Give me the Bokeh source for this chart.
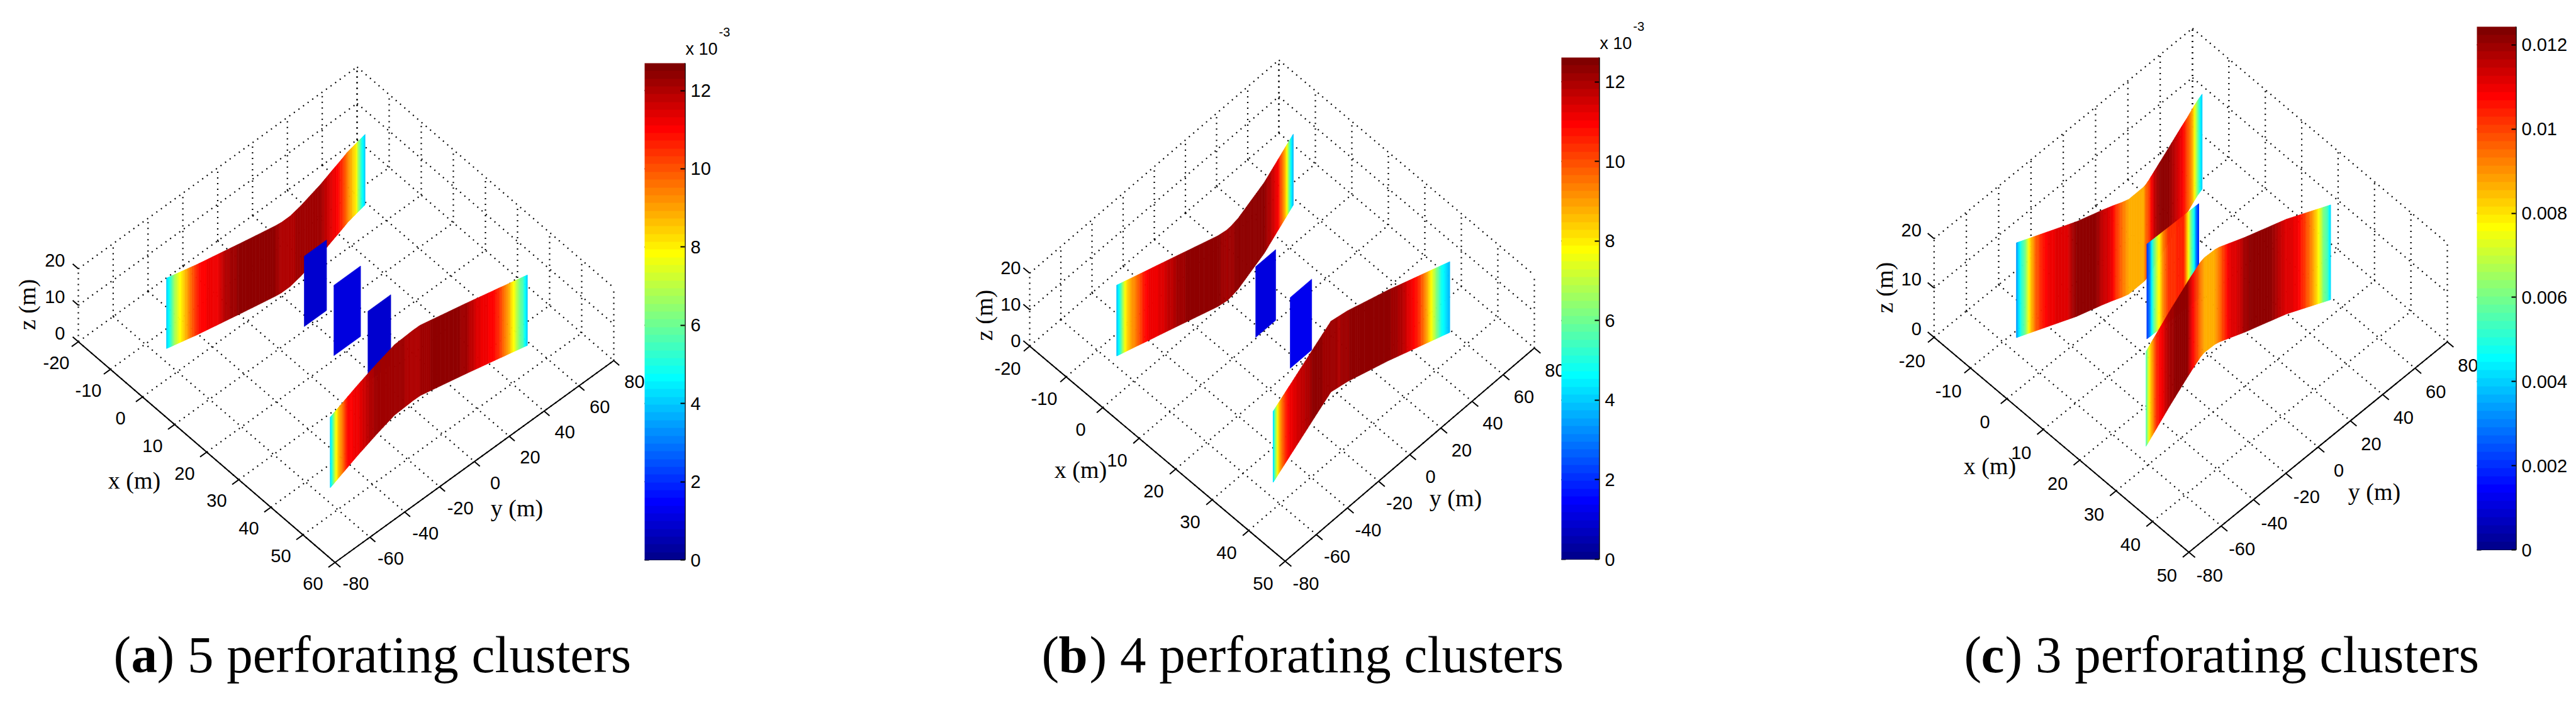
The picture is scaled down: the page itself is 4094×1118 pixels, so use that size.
from bokeh.plotting import figure
from bokeh.models import ColumnDataSource, ColorBar, LinearColorMapper, FixedTicker
from bokeh.embed import file_html
from bokeh.resources import INLINE
from bokeh.core.properties import value
import numpy as np

# ---- data (x, y, z in metres; v = value x 1e-3) ----
x_ticks_a = [-20, -10, 0, 10, 20, 30, 40, 50, 60]
x_ticks_b = [-20, -10, 0, 10, 20, 30, 40, 50]
x_ticks_c = [-20, -10, 0, 10, 20, 30, 40, 50]
y_ticks = [-80, -60, -40, -20, 0, 20, 40, 60, 80]
z_ticks = [0, 10, 20]

a_up_y = [-55,-53,-52,-50.5,-48,-46,-43.5,-41,-38.5,-33,-30,-27,-23,-20,-10,-2,1,6,13,20,27,33,36,40,44,47,50,53,55,57,59]
a_up_x = [-6.1,-5.87,-5.76,-5.59,-5.3,-5.08,-4.8,-4.5,-4.26,-3.74,-3.45,-3.17,-2.79,-2.5,-1.59,-.88,-.7,-.7,-1.2,-1.9,-2.6,-3.35,-3.73,-4.2,-4.7,-5.1,-5.35,-5.6,-5.77,-5.93,-6.1]
a_up_v = [4,5.2,6,7,8,8.7,9.6,10.4,11,11.2,11.3,11.9,12.2,12.35,12.35,12.3,12,12,12.2,12.3,12.2,11.6,11.3,11,10.3,9.5,8.7,8,6.3,5,4]

a_low_y = [-54.4,-53,-52,-51,-49.5,-47.7,-45,-43,-41,-34,-27,-20,-8,-2,3,7,13,25,29,35,42.5,45,47.5,50,51.8,53.6,55,56.6,58.6]
a_low_x = [44.6,44.43,44.31,44.19,44.01,43.79,43.47,43.23,42.98,42.15,41.39,40.64,39.48,39.37,39.27,39.3,39.9,41.1,41.5,42.14,42.95,43.2,43.5,43.75,43.95,44.15,44.3,44.47,44.7]
a_low_v = [4,5.2,6,7,8,8.8,9.6,10.4,11,11.2,11.8,12.3,12.3,12.1,12,12.1,12.35,12.35,12.2,11.4,11,10.5,9.6,8.8,8,7,6.2,5.5,4]

a_mid_x = [9.2, 19.15, 29.1]
a_mid_y0 = [-4.1, -5.4, -4.2]
a_mid_y1 = [8.7, 9.9, 8.9]
a_mid_v = [0.8, 1.1, 0.8]

b_up_y = [-56,-55,-53.8,-52.5,-51.3,-49.4,-45.6,-43,-40.8,-35,-25.9,-19,-5,0,2.8,8,15,22,29.8,36.4,43,47,49.5,51.3,53,55,57.4]
b_up_x = [-6.4,-6.28,-6.14,-5.99,-5.85,-5.63,-5.18,-4.87,-4.61,-3.94,-2.87,-2.05,-.4,-.1,-.15,-.43,-1.13,-1.83,-2.6,-3.51,-4.42,-4.97,-5.31,-5.56,-5.79,-6.07,-6.4]
b_up_v = [3.8,4.5,5.5,7,8,8.7,9.6,10.4,11,11.2,12,12.35,12.35,12,12.1,12.35,12.35,12.35,12.3,11.8,11,9.6,8.8,8,6.5,5,3.8]

b_low_y = [-54,-52.8,-51.7,-50.6,-49.5,-47.7,-45.4,-42.6,-39.2,-29,-16.4,-1.4,3.2,7.8,13.9,28.9,35.8,40.1,43.6,46,48,49.6,51.4,53,54.8,59]
b_low_x = [35.6,35.45,35.31,35.17,35.03,34.8,34.51,34.16,33.73,32.45,30.86,29,29.3,29.6,30.27,31.9,32.8,33.36,33.81,34.12,34.38,34.59,34.82,35.03,35.26,35.8]
b_low_v = [3.8,5.2,6.2,7,8,8.8,9.6,10.4,11,11.6,12.3,12.1,12,12.2,12.35,12.35,11.8,11.1,10.5,9.6,8.8,8,7,6,5,3.8]

b_mid_x = [9.8, 19.55]
b_mid_y0 = [-4.7, -5.4]
b_mid_y1 = [8.1, 8.4]
b_mid_v = [1.1, 1.2]

c_up_y = [-54.7,-53.8,-52.4,-50.7,-48.7,-46.2,-43.4,-40.2,-31.8,-29.8,-27.8,-18.8,-14.9,-10.7,-9,-6.4,-3,6.5,8,10.7,13.6,17.6,21,29,34.9,40.6,46.4,50,52.5,55.4,58.2,59.4]
c_up_x = [-8.6,-8.45,-8.21,-7.92,-7.57,-7.15,-6.67,-6.12,-4.68,-4.34,-4,-2.86,-2.37,-1.77,-1.5,-1.08,-.66,-.7,-.82,-1.16,-1.59,-2.17,-2.67,-3.84,-4.72,-5.56,-6.38,-6.94,-7.32,-7.73,-8.06,-8.2]
c_up_v = [3.2,4,5,6,8,9.5,10.4,11,11.2,11.8,12.1,12.1,11.5,11,10.2,9.5,8.7,8.7,9.5,10,11,11.8,12.1,12.1,11.6,11,9.8,9,8,6.2,4.5,4]

c_mid_y = [-14.1,-12.2,-10.6,-7.9,-6,-4.1,-.6,8.2,9.4,10.9,12.8,14.8,15.9,17,17.4]
c_mid_x = [9.2,9.24,9.25,9.28,9.3,9.31,9.35,9.43,9.44,9.45,9.47,9.49,9.5,9.5,9.5]
c_mid_v = [2,3,5,7,8,9.2,10.2,10.4,9.5,8,6,4.5,3,2.2,2]

c_low_y = [-54.5,-50.8,-47.8,-44.2,-38.7,-32.6,-26.8,-15.2,-11.7,-6.7,-3.9,-1,5.3,7.6,9.3,12.3,16.4,19.3,23.2,31.4,34.4,39.2,43.8,46.5,49.2,51.2,52.8,54.7,55.5,57.1,58.5]
c_low_x = [26.9,26.33,25.86,25.3,24.45,23.5,22.65,20.96,20.47,19.8,19.43,19.21,19.29,19.49,19.75,20.21,20.85,21.3,21.81,22.88,23.27,23.9,24.76,25.26,25.77,26.14,26.44,26.8,26.95,27.24,27.5]
c_low_v = [5.3,8,9,10.3,11,11.8,12.1,12.1,11,10,9.3,8.7,8.7,9.3,10,11,11.3,11.9,12.15,12.15,11.8,11.2,11,10.3,9.5,8.7,8,6.8,6,5.5,4]

cb_ticks_ab = [0, 2, 4, 6, 8, 10, 12]
cb_ticks_c = [0, 0.002, 0.004, 0.006, 0.008, 0.01, 0.012]
cb_labels_c = ["0", "0.002", "0.004", "0.006", "0.008", "0.01", "0.012"]

# ---- jet colour table ----
def jet(n=64):
    t = np.arange(1, n + 1) / n
    f = lambda c: np.clip(1.5 - np.abs(4 * t - c), 0, 1)
    r, g, b = f(3), f(2), f(1)
    return ["#%02x%02x%02x" % (int(round(a * 255)), int(round(c * 255)), int(round(d * 255))) for a, c, d in zip(r, g, b)]

JET = jet()
TICK_FONT = value("Liberation Sans")
SERIF = value("Liberation Serif")

# Bokeh's page has no body margin: canvas pixels equal page pixels
W, H = 4090, 1110
p = figure(width=W, height=H, x_range=(0, W), y_range=(H, 0),
           toolbar_location=None, output_backend="svg", min_border=0)
p.axis.visible = False
p.grid.visible = False
p.outline_line_color = None


class Panel:
    def __init__(s, left, bottom, right, xmin, xmax, ez, xticks, zdx, zdy, wall_h, lab_dy, lift=0.0):
        s.O = np.array(left, float)
        s.xmin, s.xmax = xmin, xmax
        s.ex = (np.array(bottom, float) - s.O) / (xmax - xmin)
        s.ey = (np.array(right, float) - np.array(bottom, float)) / 160
        s.ez, s.xticks, s.zdx, s.zdy, s.wall_h = ez, xticks, zdx, zdy, wall_h
        s.lab_dy, s.lift = lab_dy, lift

    def pt(s, x, y, z=0.0):
        q = s.O + (x - s.xmin) * s.ex + (y + 80) * s.ey
        return float(q[0]), float(q[1] - z * s.ez)


def frame(pn):
    gx, gy = [], []
    def line(a, b):
        gx.append([a[0], b[0]]); gy.append([a[1], b[1]])
    x0, x1 = pn.xmin, pn.xmax
    for xt in pn.xticks:
        line(pn.pt(xt, -80), pn.pt(xt, 80))
        line(pn.pt(xt, 80), pn.pt(xt, 80, 20))
    for yt in y_ticks:
        line(pn.pt(x0, yt), pn.pt(x1, yt))
        line(pn.pt(x0, yt), pn.pt(x0, yt, 20))
    for zt in z_ticks[1:]:
        line(pn.pt(x0, -80, zt), pn.pt(x0, 80, zt))
        line(pn.pt(x0, 80, zt), pn.pt(x1, 80, zt))
    p.multi_line(gx, gy, line_color="black", line_width=2.2, line_dash="2 7")
    # solid axes
    a, b, c = pn.pt(x0, -80), pn.pt(x1, -80), pn.pt(x1, 80)
    p.line([a[0], b[0], c[0]], [a[1], b[1], c[1]], line_color="black", line_width=2)
    tx, ty = [], []
    for xt in pn.xticks:
        q = pn.pt(xt, -80)
        tx.append([q[0], q[0] - 3.8 * pn.ey[0]]); ty.append([q[1], q[1] - 3.8 * pn.ey[1]])
    for yt in y_ticks:
        q = pn.pt(x1, yt)
        tx.append([q[0], q[0] + 1.7 * pn.ex[0]]); ty.append([q[1], q[1] + 1.7 * pn.ex[1]])
    for zt in z_ticks:
        q = pn.pt(x0, -80, zt)
        tx.append([q[0], q[0] - 1.75 * pn.ex[0]]); ty.append([q[1], q[1] - 1.75 * pn.ex[1]])
    p.multi_line(tx, ty, line_color="black", line_width=2)
    # tick labels
    lx = [pn.pt(t, -80)[0] - 35 for t in pn.xticks]
    ly = [pn.pt(t, -80)[1] + pn.lab_dy for t in pn.xticks]
    p.text(lx, ly, text=[str(t) for t in pn.xticks], text_font=TICK_FONT, text_font_size="29px",
           text_align="center", text_baseline="middle", text_color="black")
    lx = [pn.pt(x1, t)[0] + 33 for t in y_ticks]
    ly = [pn.pt(x1, t)[1] + pn.lab_dy for t in y_ticks]
    p.text(lx, ly, text=[str(t) for t in y_ticks], text_font=TICK_FONT, text_font_size="29px",
           text_align="center", text_baseline="middle", text_color="black")
    lx = [pn.pt(x0, -80, t)[0] + pn.zdx for t in z_ticks]
    ly = [pn.pt(x0, -80, t)[1] + pn.zdy for t in z_ticks]
    p.text(lx, ly, text=[str(t) for t in z_ticks], text_font=TICK_FONT, text_font_size="29px",
           text_align="right", text_baseline="middle", text_color="black")


def wall(pn, xs, ys, vs, mapper, scale=1.0, shade_steps=6):
    # interpolated shading, as in the original surface: each read segment is painted as a small gradient
    px, py, pv = [], [], []
    z0, z1 = pn.lift, pn.lift + pn.wall_h
    for i in range(len(xs) - 1):
        for k in range(shade_steps):
            f0, f1 = k / shade_steps, (k + 1) / shade_steps
            xa, ya = xs[i] + f0 * (xs[i + 1] - xs[i]), ys[i] + f0 * (ys[i + 1] - ys[i])
            xb, yb = xs[i] + f1 * (xs[i + 1] - xs[i]), ys[i] + f1 * (ys[i + 1] - ys[i])
            c = [pn.pt(xa, ya, z0), pn.pt(xb, yb, z0), pn.pt(xb, yb, z1), pn.pt(xa, ya, z1)]
            px.append([q[0] for q in c]); py.append([q[1] for q in c])
            pv.append((vs[i] + (f0 + f1) / 2 * (vs[i + 1] - vs[i])) * scale)
    src = ColumnDataSource(dict(px=px, py=py, v=pv))
    tr = {"field": "v", "transform": mapper}
    p.patches("px", "py", source=src, fill_color=tr, line_color=tr, line_width=0.7)


def slab(pn, x, y0, y1, v, mapper):
    wall(pn, [x, x], [y0, y1], [v, v], mapper, 1.0, 1)


def colorbar(mapper, ticks, labels, left, right, top, bottom, vmax):
    over = {t: l for t, l in zip(ticks, labels)}
    cb = ColorBar(color_mapper=mapper, ticker=FixedTicker(ticks=ticks), major_label_overrides=over,
                  width=right - left, height=bottom - top,
                  location=(left, H - bottom), margin=0, padding=0,
                  major_tick_line_color="black", major_tick_line_width=2, major_tick_in=7, major_tick_out=0,
                  minor_tick_line_color=None, bar_line_color=None, border_line_color=None,
                  background_fill_color=None, label_standoff=9,
                  major_label_text_font="Liberation Sans", major_label_text_font_size="29px",
                  major_label_text_color="black")
    p.add_layout(cb, "center")
    ty = [bottom + (top - bottom) * t / vmax for t in ticks]
    p.segment([left] * len(ty), ty, [left + 7] * len(ty), ty, line_color="black", line_width=2)
    p.segment([right], [top], [right], [bottom], line_color="black", line_width=2.5)
    p.segment([left], [bottom], [right], [bottom], line_color="black", line_width=1.2)


def caption(x0, letter, rest, dx_letter, dx_rest):
    mid = 1040
    opts = dict(text_font_size="83px", text_baseline="middle", text_color="black")
    p.text([x0], [mid], text=["("], text_font=SERIF, **opts)
    p.text([x0 + dx_letter], [mid], text=[letter], text_font=SERIF, text_font_style="bold", **opts)
    p.text([x0 + dx_rest], [mid], text=[rest], text_font=SERIF, **opts)


def axis_labels(xl, yl, zl):
    opts = dict(text_font=SERIF, text_font_size="38px", text_align="center", text_baseline="middle", text_color="black")
    p.text([xl[0]], [xl[1]], text=["x (m)"], **opts)
    p.text([yl[0]], [yl[1]], text=["y (m)"], **opts)
    p.text([zl[0]], [zl[1]], text=["z (m)"], angle=np.pi / 2, **opts)


map_a = LinearColorMapper(palette=JET, low=0, high=12.7)
map_b = LinearColorMapper(palette=JET, low=0, high=12.61)
map_c = LinearColorMapper(palette=JET, low=0, high=0.01243)

# panel a
pa = Panel((124, 543), (532, 894), (975, 573), -20, 60, 5.8, x_ticks_a, -21, -14, 19.3, 33.5)
frame(pa)
wall(pa, a_up_x, a_up_y, a_up_v, map_a)
for x, y0, y1, v in zip(a_mid_x, a_mid_y0, a_mid_y1, a_mid_v):
    slab(pa, x, y0, y1, v, map_a)
wall(pa, a_low_x, a_low_y, a_low_v, map_a)
axis_labels((213, 763), (821, 807), (42, 484))
colorbar(map_a, cb_ticks_ab, [str(t) for t in cb_ticks_ab], 1024, 1088, 100, 890, 12.7)

# panel b
pb = Panel((1636, 550), (2042, 892), (2438, 553), -20, 50, 5.8, x_ticks_b, -14, -9, 19.4, 35)
frame(pb)
wall(pb, b_up_x, b_up_y, b_up_v, map_b)
for x, y0, y1, v in zip(b_mid_x, b_mid_y0, b_mid_y1, b_mid_v):
    slab(pb, x, y0, y1, v, map_b)
wall(pb, b_low_x, b_low_y, b_low_v, map_b)
axis_labels((1717, 746), (2313, 791), (1563, 501))
colorbar(map_b, cb_ticks_ab, [str(t) for t in cb_ticks_ab], 2481, 2541, 91, 889, 12.61)

# panel c
pc = Panel((3073.3, 536), (3478.3, 877.7), (3889, 543.3), -20, 50, 7.85, x_ticks_c, -20, -14, 19.2, 37, 0.3)
frame(pc)
wall(pc, c_up_x, c_up_y, c_up_v, map_c, 1e-3)
wall(pc, c_mid_x, c_mid_y, c_mid_v, map_c, 1e-3)
wall(pc, c_low_x, c_low_y, c_low_v, map_c, 1e-3)
axis_labels((3162, 740), (3773, 781), (2994, 457))
colorbar(map_c, cb_ticks_c, cb_labels_c, 3936, 3998, 42, 874, 0.01243)

# exponent labels
for left, mid10, mid3 in ((1089, 77, 50), (2542, 68, 41)):
    p.text([left], [mid10], text=["x 10"], text_font=TICK_FONT, text_font_size="27px",
           text_baseline="middle", text_color="black")
    p.text([left + 53], [mid3], text=["-3"], text_font=TICK_FONT, text_font_size="20px",
           text_baseline="middle", text_color="black")

caption(180, "a", ") 5 perforating clusters", 28, 69)
caption(1655, "b", ") 4 perforating clusters", 27, 76)
caption(3121, "c", ") 3 perforating clusters", 27, 65)

open("out.html", "w").write(file_html(p, INLINE))
